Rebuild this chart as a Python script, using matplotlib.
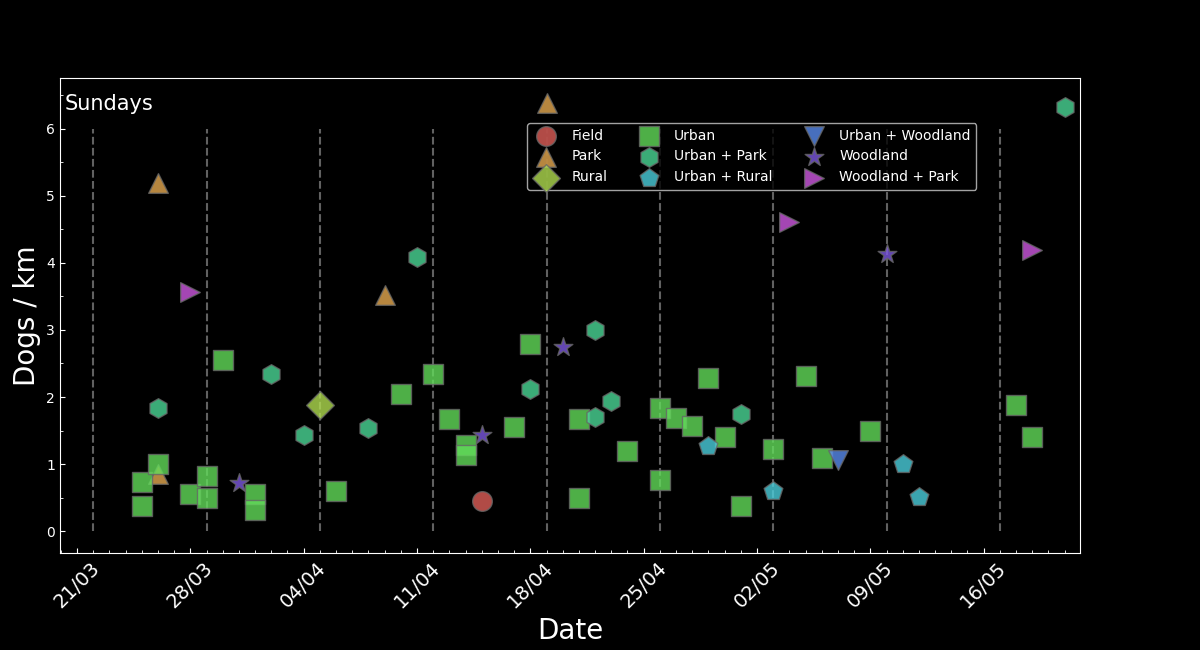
import datetime as dt
import matplotlib
matplotlib.use("Agg")
import matplotlib.pyplot as plt
import matplotlib.dates as mdates

YEAR = 2020

categories = ["Field", "Park", "Rural", "Urban", "Urban + Park", "Urban + Rural",
              "Urban + Woodland", "Woodland", "Woodland + Park"]
markers = ["o", "^", "D", "s", "h", "p", "v", "*", ">"]
colors = ["#de5f58", "#e5a950", "#b0dc50", "#62dc5a", "#4bd796", "#4bcedc",
          "#5a8cee", "#7d58e1", "#ce58e1"]

field_dates = ["15/04"]
field_vals = [0.45]

park_dates = ["26/03", "26/03", "09/04", "19/04"]
park_vals = [5.20, 0.85, 3.52, 6.39]

rural_dates = ["05/04"]
rural_vals = [1.88]

urban_dates = ["25/03", "25/03", "26/03", "28/03", "29/03", "29/03", "30/03", "01/04",
               "01/04", "06/04", "10/04", "12/04", "13/04", "14/04", "14/04", "17/04",
               "18/04", "21/04", "21/04", "24/04", "26/04", "26/04", "27/04", "28/04",
               "29/04", "30/04", "01/05", "03/05", "05/05", "06/05", "09/05", "18/05",
               "19/05"]
urban_vals = [0.73, 0.38, 1.00, 0.55, 0.82, 0.50, 2.55, 0.56,
              0.32, 0.59, 2.04, 2.35, 1.67, 1.29, 1.13, 1.55,
              2.79, 1.67, 0.50, 1.19, 1.83, 0.76, 1.69, 1.57,
              2.28, 1.40, 0.37, 1.22, 2.31, 1.09, 1.50, 1.88,
              1.40]

urban_park_dates = ["26/03", "02/04", "04/04", "08/04", "11/04", "18/04", "22/04",
                    "22/04", "23/04", "01/05", "21/05"]
urban_park_vals = [1.83, 2.35, 1.44, 1.53, 4.09, 2.12, 3.00, 1.70, 1.94, 1.74, 6.33]

urban_rural_dates = ["29/04", "03/05", "11/05", "12/05"]
urban_rural_vals = [1.27, 0.60, 1.00, 0.51]

urban_wood_dates = ["07/05"]
urban_wood_vals = [1.06]

wood_dates = ["31/03", "15/04", "20/04", "10/05"]
wood_vals = [0.71, 1.43, 2.74, 4.14]

wood_park_dates = ["28/03", "04/05", "19/05"]
wood_park_vals = [3.56, 4.61, 4.20]

sundays = ["22/03", "29/03", "05/04", "12/04", "19/04", "26/04", "03/05", "10/05", "17/05"]

all_dates = [field_dates, park_dates, rural_dates, urban_dates, urban_park_dates,
             urban_rural_dates, urban_wood_dates, wood_dates, wood_park_dates]
all_vals = [field_vals, park_vals, rural_vals, urban_vals, urban_park_vals,
            urban_rural_vals, urban_wood_vals, wood_vals, wood_park_vals]


def to_date(s):
    d, m = s.split("/")
    return dt.datetime(YEAR, int(m), int(d))


plt.style.use("dark_background")
fig, ax = plt.subplots(figsize=(12, 6.5), dpi=100)
fig.subplots_adjust(left=0.05, right=0.9, bottom=0.149, top=0.88)

ax.vlines([to_date(s) for s in sundays], 0, 6, colors="0.38", linestyles="--",
          linewidth=1.5, zorder=1)

for cat, mk, col, ds, vs in zip(categories, markers, colors, all_dates, all_vals):
    ax.scatter([to_date(s) for s in ds], vs, marker=mk, s=200, color=col, alpha=0.8,
               edgecolor="0.4", linewidth=1, label=cat, zorder=2)

start = dt.datetime(YEAR, 3, 21)
ax.set_xlim(start - dt.timedelta(days=1.05), start + dt.timedelta(days=61.95))
ax.set_ylim(-0.33, 6.76)

ax.xaxis.set_major_locator(mdates.WeekdayLocator(byweekday=mdates.SA))
ax.xaxis.set_minor_locator(mdates.DayLocator())
ax.xaxis.set_major_formatter(mdates.DateFormatter("%d/%m"))
ax.yaxis.set_major_locator(plt.MultipleLocator(1))
ax.yaxis.set_minor_locator(plt.MultipleLocator(0.5))
ax.tick_params(which="both", direction="in")
ax.tick_params(axis="x", which="major", labelsize=14, labelrotation=45)
ax.tick_params(axis="y", labelsize=10)

ax.set_xlabel("Date", fontsize=20)
ax.set_ylabel("Dogs / km", fontsize=20)
ax.text(0.005, 0.945, "Sundays", transform=ax.transAxes, fontsize=15, va="center")

ax.legend(ncol=3, loc="upper left", bbox_to_anchor=(0.451, 0.92), fontsize=10,
          facecolor="black", edgecolor="0.8", columnspacing=2.0)

fig.savefig("out.png")
